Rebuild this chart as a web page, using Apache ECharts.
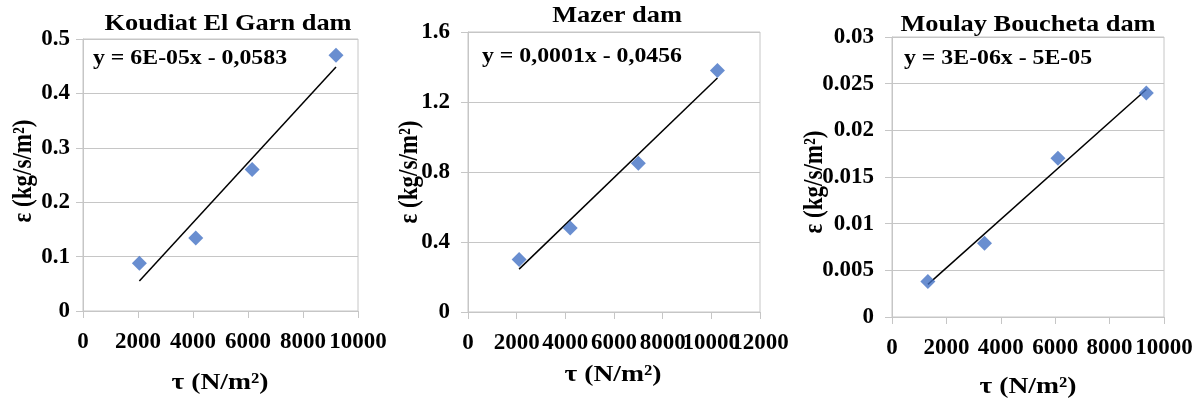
<!DOCTYPE html>
<html><head><meta charset="utf-8">
<script src="https://cdn.jsdelivr.net/npm/echarts@6/dist/echarts.min.js"></script>
<style>html,body{margin:0;padding:0;background:#fff}#c{width:1203px;height:406px}</style>
</head><body><div id="c"></div>
<script>
// ---- data ----
const titles = ['Koudiat El Garn dam', 'Mazer dam', 'Moulay Boucheta dam'];
const equations = ['y = 6E-05x - 0,0583', 'y = 0,0001x - 0,0456', 'y = 3E-06x - 5E-05'];
const xAxisName = 'τ (N/m²)';
const yAxisName = 'ε (kg/s/m²)';
const koudiatX = [2050, 4100, 6150, 9200];
const koudiatY = [0.088, 0.134, 0.26, 0.47];
const mazerX = [2100, 4200, 7000, 10250];
const mazerY = [0.30, 0.48, 0.85, 1.38];
const moulayX = [1320, 3400, 6100, 9350];
const moulayY = [0.0038, 0.0079, 0.017, 0.024];
const xMax = [10000, 12000, 10000];
const xStep = [2000, 2000, 2000];
const yMax = [0.5, 1.6, 0.03];
const yStep = [0.1, 0.4, 0.005];

// ---- layout ----
const FONT = '"Liberation Serif", "Times New Roman", serif';
const grids = [
  {left: 83, right: 845, top: 39, bottom: 95},
  {left: 468, right: 443, top: 32, bottom: 94},
  {left: 892, right: 39, top: 37, bottom: 89}
];
const titlePos = [[228, 24], [617, 16], [1028, 25]];
const eqPos = [[93, 59], [482, 57], [904, 59]];
const yNamePos = [[24, 171], [410, 172], [815, 182]];
const xNamePos = [[220, 383], [613, 375], [1028, 387]];

const xs = [koudiatX, mazerX, moulayX];
const ys = [koudiatY, mazerY, moulayY];

function fit(x, y) {
  const n = x.length;
  const mx = x.reduce((a, b) => a + b, 0) / n;
  const my = y.reduce((a, b) => a + b, 0) / n;
  let sxy = 0, sxx = 0;
  for (let i = 0; i < n; i++) { sxy += (x[i] - mx) * (y[i] - my); sxx += (x[i] - mx) ** 2; }
  const s = sxy / sxx, b = my - s * mx;
  const x0 = Math.min(...x), x1 = Math.max(...x);
  return [[x0, s * x0 + b], [x1, s * x1 + b]];
}

const gray = '#c6c6c6';
const SX = 1.19; // horizontal stretch of the reference's lettering
const labelStyle = {color: '#000', fontFamily: FONT, fontWeight: 'bold', fontSize: 23};

// x axes: one per grid; the middle grid gets a second, label-only axis so
// that its crowded neighbouring labels (10000 / 12000) are both drawn.
const xAxes = grids.map((g, i) => ({
  type: 'value', gridIndex: i, min: 0, max: xMax[i], interval: xStep[i],
  axisLine: {show: true, lineStyle: {color: gray}},
  axisTick: {show: true, length: 7, lineStyle: {color: gray}},
  splitLine: {show: false},
  axisLabel: Object.assign({margin: 20, hideOverlap: false, showMinLabel: true, showMaxLabel: true,
    formatter: v => (i === 1 && v === xMax[i] - xStep[i]) ? '' : String(v)}, labelStyle)
}));
xAxes.push({
  type: 'value', gridIndex: 1, position: 'bottom', min: 0, max: xMax[1], interval: xStep[1],
  axisLine: {show: false}, axisTick: {show: false}, splitLine: {show: false},
  axisLabel: Object.assign({margin: 20, hideOverlap: false, showMinLabel: true, showMaxLabel: true,
    formatter: v => (v === xMax[1] - xStep[1]) ? String(v) : ''}, labelStyle)
});

const option = {
  animation: false,
  backgroundColor: '#fff',
  grid: grids.map(g => Object.assign({show: true, borderColor: gray, borderWidth: 1, containLabel: false}, g)),
  xAxis: xAxes,
  yAxis: grids.map((g, i) => ({
    type: 'value', gridIndex: i, min: 0, max: yMax[i], interval: yStep[i],
    axisLine: {show: true, lineStyle: {color: gray}},
    axisTick: {show: true, length: 7, lineStyle: {color: gray}},
    splitLine: {show: true, lineStyle: {color: gray}},
    axisLabel: Object.assign({margin: [13, 18, 18][i], showMinLabel: true, showMaxLabel: true}, labelStyle)
  })),
  series: [].concat(...grids.map((g, i) => ([
    {
      type: 'line', xAxisIndex: i, yAxisIndex: i, data: fit(xs[i], ys[i]),
      showSymbol: false, lineStyle: {color: '#000', width: 1.5}, z: 2, silent: true
    },
    {
      type: 'scatter', xAxisIndex: i, yAxisIndex: i,
      data: xs[i].map((x, k) => [x, ys[i][k]]),
      symbol: 'diamond', symbolSize: [15, 15],
      itemStyle: {color: '#4472C4'}, z: 3
    }
  ]))),
  graphic: [].concat(
    titles.map((t, i) => ({type: 'text', x: titlePos[i][0], y: titlePos[i][1], scaleX: 1.1,
      style: {text: t, font: 'bold 24px ' + FONT, fill: '#000', textAlign: 'center', textVerticalAlign: 'middle'}})),
    equations.map((t, i) => ({type: 'text', x: eqPos[i][0], y: eqPos[i][1], scaleX: SX,
      style: {text: t, font: 'bold 20px ' + FONT, fill: '#000', textAlign: 'left', textVerticalAlign: 'middle'}})),
    yNamePos.map(p => ({type: 'text', x: p[0], y: p[1], rotation: Math.PI / 2, scaleY: SX,
      style: {text: yAxisName, font: 'bold 23px ' + FONT, fill: '#000', textAlign: 'center', textVerticalAlign: 'middle'}})),
    xNamePos.map(p => ({type: 'text', x: p[0], y: p[1], scaleX: 1.2,
      style: {text: xAxisName, font: 'bold 23px ' + FONT, fill: '#000', textAlign: 'center', textVerticalAlign: 'middle'}}))
  )
};
const chart = echarts.init(document.getElementById('c'), null, {renderer: 'canvas'});
chart.setOption(option);
</script></body></html>
